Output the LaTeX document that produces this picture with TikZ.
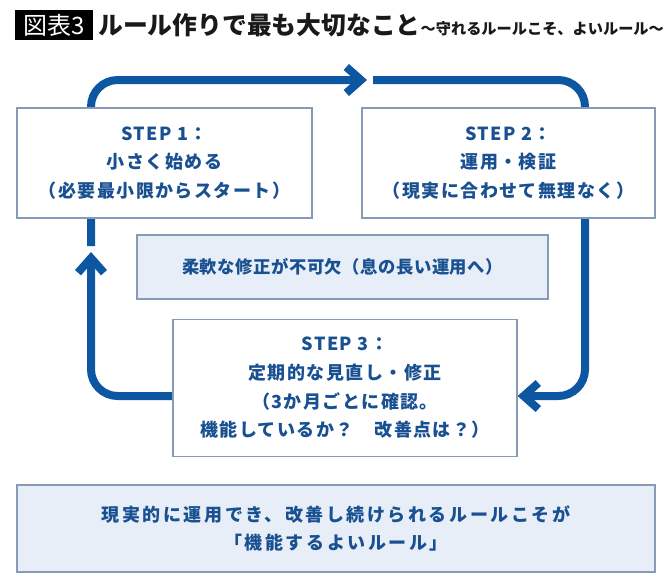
\documentclass[tikz,border=0pt]{standalone}
\usepackage{fontspec}
\setmainfont{Noto Sans CJK JP}
\usepackage{xcolor}
\usepackage{tikz}
\usetikzlibrary{arrows.meta,positioning}
\pgfdeclarelayer{background}
\pgfsetlayers{background,main}
\definecolor{loopblue}{RGB}{12,86,162}
\definecolor{textblue}{RGB}{24,80,145}
\definecolor{boxline}{RGB}{135,155,182}
\definecolor{boxfill}{RGB}{232,238,247}
\tikzset{
    >={Straight Barb[sharp,length=11pt,width=19.5pt]},
    stepbox/.style={
        rectangle,
        draw=boxline, line width=0.9pt,
        fill=white,
        text=textblue,
        align=center,
        inner sep=0pt,
        font={\fontsize{13.5pt}{21.5pt}\selectfont\bfseries\addfontfeature{LetterSpace=8}}
    },
    notebox/.style={
        stepbox,
        fill=boxfill
    },
    tagbox/.style={
        fill=black, text=white,
        inner sep=0pt,
        font={\fontsize{18pt}{20pt}\selectfont}
    },
    loopline/.style={draw=loopblue, line width=6pt, rounded corners=20pt, ->},
}

\begin{document}
\begin{tikzpicture}[x=0.75pt,y=-0.75pt]
\useasboundingbox (0,0) rectangle (670,582);
% title
\node[tagbox, minimum width=58.5pt, minimum height=22.5pt] (tag) at (54,25) {図表3};
\node[anchor=west, inner sep=0pt, text=black!90,
    font={\fontsize{18.6pt}{20pt}\selectfont\bfseries}] (title) at (98,25)
    {ルール作りで最も大切なこと{\fontsize{11.4pt}{12pt}\selectfont 〜守れるルールこそ、よいルール〜}};
% steps
\node[stepbox, minimum width=221.25pt, minimum height=82.5pt] (step1) at (164.5,163)
    {STEP 1：\\小さく始める\\（必要最小限からスタート）};
\node[stepbox, minimum width=219.75pt, minimum height=82.5pt] (step2) at (508.5,163)
    {STEP 2：\\運用・検証\\（現実に合わせて無理なく）};
\node[notebox, minimum width=308.25pt, minimum height=48pt,
    font={\fontsize{13pt}{20pt}\selectfont\bfseries\addfontfeature{LetterSpace=3}}] (note) at (342.5,267)
    {柔軟な修正が不可欠（息の長い運用へ）};
\node[stepbox, minimum width=258pt, minimum height=102.75pt] (step3) at (345,388)
    {STEP 3：\\定期的な見直し・修正\\（3か月ごとに確認。\\機能しているか？　改善点は？）};
\node[notebox, minimum width=478.5pt, minimum height=65.25pt,
    font={\fontsize{13.5pt}{21pt}\selectfont\bfseries\addfontfeature{LetterSpace=14}}] (goal) at (336,528.5)
    {現実的に運用でき、改善し続けられるルールこそが\\「機能するよいルール」};
% loop
\coordinate (upTip) at (91,252);
\coordinate (upGap) at (91,246);
\coordinate (topTip) at (367,80);
\coordinate (topGap) at (373,80);
\coordinate (turn) at (585,396);
\begin{pgfonlayer}{background}
\draw[loopline] ([yshift=-6pt]step3.west) -| (upTip);
\draw[loopline] (upGap) |- (topTip);
\draw[loopline] (topGap) -| (turn) -- ([yshift=-6pt]step3.east);
\end{pgfonlayer}
\end{tikzpicture}
\end{document}
